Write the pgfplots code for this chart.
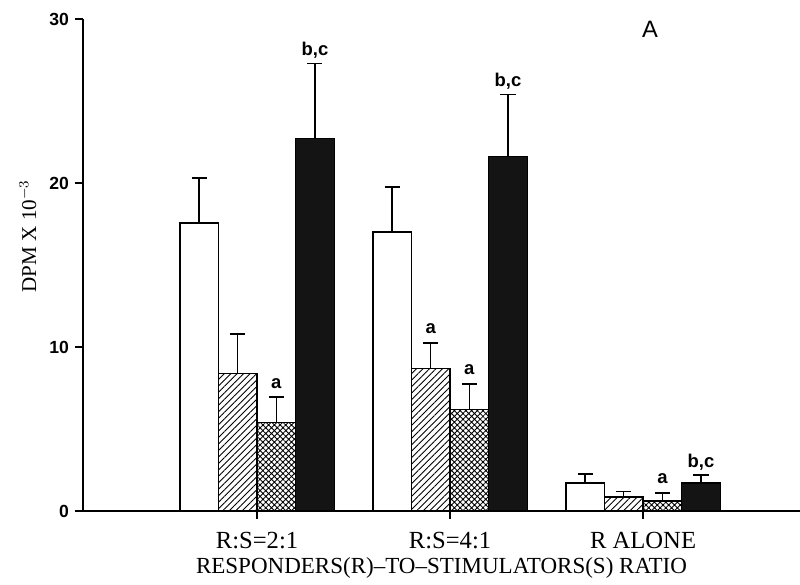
\documentclass[border=0pt]{standalone}
\usepackage{fontspec}
\setmainfont{Liberation Serif}
\setsansfont{Liberation Sans}
\usepackage{pgfplots}
\pgfplotsset{compat=1.18}
\usetikzlibrary{patterns,patterns.meta}

\begin{document}
\begin{tikzpicture}
\begin{axis}[
    name=ax,
    scale only axis,
    width=14.34cm, height=9.84cm,
    ybar=0pt, bar width=0.2,
    xmin=-0.9016, xmax=2.813,
    ymin=0, ymax=30,
    axis x line=bottom, axis y line=left,
    axis line style={-, line width=0.8pt},
    tick align=outside, major tick length=4.5pt,
    tick style={line width=0.8pt, black},
    xtick={0,1,2},
    xticklabels={R:S=2:1, R:S=4:1, R ALONE},
    ytick={0,10,20,30},
    /pgf/number format/assume math mode=true,
    yticklabel style={font=\sffamily\bfseries\fontsize{10}{12}\selectfont},
    xticklabel style={font=\fontsize{14}{16}\selectfont, yshift=-4pt},
    xlabel={RESPONDERS(R)--TO--STIMULATORS(S) RATIO},
    xlabel style={font=\fontsize{13.1}{15}\selectfont, yshift=2pt},
    ylabel={DPM X 10$^{-3}$},
    ylabel style={font=\fontsize{12}{14}\selectfont, at={(axis description cs:-0.077,0.559)}, anchor=center},
    error bars/y dir=plus, error bars/y explicit,
    error bars/error bar style={line width=0.8pt, black},
    error bars/error mark options={rotate=90, line width=0.8pt, mark size=4.3pt, black},
    clip=false,
]
% white
\addplot[draw=black, line width=0.8pt, fill=white]
  coordinates {(0,17.55) +- (0,2.75) (1,17.0) +- (0,2.75) (2,1.7) +- (0,0.55)};
% hatched
\addplot[draw=black, line width=0.8pt, pattern={Lines[angle=45,distance=2.6pt,line width=0.5pt]}]
  coordinates {(0,8.4) +- (0,2.4) (1,8.7) +- (0,1.55) (2,0.85) +- (0,0.35)};
% crosshatched
\addplot[draw=black, line width=0.8pt, pattern={Hatch[angle=45,distance=2.3pt,line width=0.5pt]}]
  coordinates {(0,5.4) +- (0,1.55) (1,6.2) +- (0,1.55) (2,0.6) +- (0,0.5)};
% black
\addplot[draw=black, line width=0.8pt, fill=black!92]
  coordinates {(0,22.7) +- (0,4.6) (1,21.6) +- (0,3.8) (2,1.7) +- (0,0.5)};

\begin{scope}[every node/.style={font=\sffamily\bfseries\fontsize{10.5}{12}\selectfont, inner sep=0pt}]
\node at (axis cs:0.1,7.75) {a};
\node at (axis cs:0.3,28.1) {b,c};
\node at (axis cs:0.9,11.15) {a};
\node at (axis cs:1.1,8.6) {a};
\node at (axis cs:1.3,26.2) {b,c};
\node at (axis cs:2.1,1.95) {a};
\node at (axis cs:2.3,2.95) {b,c};
\end{scope}
\node[font=\sffamily\fontsize{13.5}{15}\selectfont] at (axis description cs:0.791,0.978) {A};
\end{axis}
\pgfresetboundingbox
\path[use as bounding box] ([xshift=-1.66cm,yshift=-1.48cm]ax.south west) rectangle ([yshift=0.38cm]ax.north east);
\end{tikzpicture}
\end{document}
